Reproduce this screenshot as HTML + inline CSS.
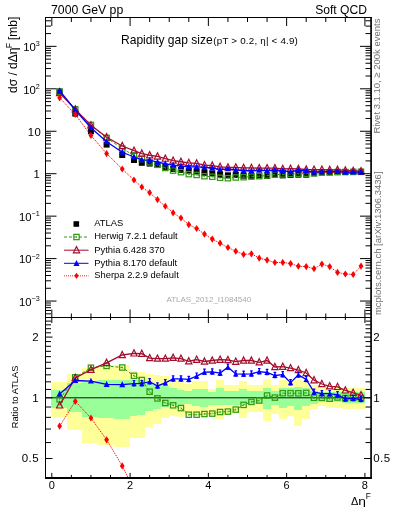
<!DOCTYPE html><html><head><meta charset="utf-8"><style>html,body{margin:0;padding:0;background:#fff;}svg{display:block;will-change:transform;}text{font-family:"Liberation Sans",sans-serif;}</style></head><body>
<svg width="393" height="512" viewBox="0 0 393 512">
<rect x="0" y="0" width="393" height="512" fill="#fff"/>
<defs><clipPath id="ct"><rect x="45.5" y="17.5" width="325.5" height="300.0"/></clipPath><clipPath id="cb"><rect x="45.5" y="317.5" width="325.5" height="160.0"/></clipPath></defs>
<g fill="#ffff99" shape-rendering="crispEdges"><rect x="51" y="382.1" width="15.7" height="34.4"/><rect x="66.7" y="374" width="15.7" height="56.2"/><rect x="82.41" y="367.7" width="15.7" height="75.3"/><rect x="98.11" y="365" width="15.7" height="80"/><rect x="113.82" y="365.2" width="15.7" height="81.7"/><rect x="129.52" y="371.2" width="7.85" height="66.3"/><rect x="137.37" y="371.7" width="7.85" height="65.8"/><rect x="145.22" y="374.2" width="7.85" height="52.8"/><rect x="153.08" y="374.7" width="7.85" height="49.6"/><rect x="160.93" y="376.2" width="7.85" height="41.7"/><rect x="168.78" y="379.8" width="7.85" height="36.1"/><rect x="176.63" y="381.3" width="7.85" height="36.1"/><rect x="184.48" y="384.3" width="7.85" height="31.6"/><rect x="192.34" y="380.8" width="7.85" height="35.6"/><rect x="200.19" y="380.8" width="7.85" height="36.1"/><rect x="208.04" y="389.3" width="7.85" height="27"/><rect x="215.89" y="380" width="7.85" height="38.7"/><rect x="223.74" y="385" width="7.85" height="30.1"/><rect x="231.6" y="385" width="7.85" height="28"/><rect x="239.45" y="381.1" width="7.85" height="36.7"/><rect x="247.3" y="384.7" width="7.85" height="26.9"/><rect x="255.15" y="384.5" width="7.85" height="27.1"/><rect x="263" y="379.2" width="7.85" height="41.8"/><rect x="270.86" y="385.2" width="7.85" height="28.8"/><rect x="278.71" y="380.2" width="7.85" height="38.5"/><rect x="286.56" y="380.6" width="7.85" height="35.1"/><rect x="294.41" y="378.8" width="7.85" height="46.9"/><rect x="302.26" y="380.6" width="7.85" height="38.1"/><rect x="310.12" y="385.2" width="7.85" height="24.1"/><rect x="317.97" y="387.8" width="7.85" height="17.7"/><rect x="325.82" y="387.8" width="7.85" height="20.2"/><rect x="333.67" y="387.8" width="7.85" height="20.2"/><rect x="341.52" y="388" width="7.85" height="20.5"/><rect x="349.38" y="388" width="7.85" height="20.5"/><rect x="357.23" y="388" width="7.85" height="20.5"/></g>
<g fill="#99ff99" shape-rendering="crispEdges"><rect x="51" y="389.6" width="15.7" height="17.9"/><rect x="66.7" y="383" width="15.7" height="29"/><rect x="82.41" y="380.6" width="15.7" height="36.4"/><rect x="98.11" y="380" width="15.7" height="38"/><rect x="113.82" y="380.3" width="15.7" height="38.45"/><rect x="129.52" y="380" width="7.85" height="36.4"/><rect x="137.37" y="380" width="7.85" height="35"/><rect x="145.22" y="383.9" width="7.85" height="26.6"/><rect x="153.08" y="384.9" width="7.85" height="24"/><rect x="160.93" y="385.9" width="7.85" height="20.7"/><rect x="168.78" y="387.9" width="7.85" height="17.3"/><rect x="176.63" y="389.9" width="7.85" height="15.3"/><rect x="184.48" y="391" width="7.85" height="13.2"/><rect x="192.34" y="388.6" width="7.85" height="17.6"/><rect x="200.19" y="389.2" width="7.85" height="18"/><rect x="208.04" y="392.3" width="7.85" height="12.3"/><rect x="215.89" y="388.2" width="7.85" height="17"/><rect x="223.74" y="391.1" width="7.85" height="14.1"/><rect x="231.6" y="391.1" width="7.85" height="14.1"/><rect x="239.45" y="389" width="7.85" height="16.4"/><rect x="247.3" y="390.5" width="7.85" height="13.5"/><rect x="255.15" y="390.7" width="7.85" height="13.3"/><rect x="263" y="387.8" width="7.85" height="20.9"/><rect x="270.86" y="391.1" width="7.85" height="13.5"/><rect x="278.71" y="388.2" width="7.85" height="19.5"/><rect x="286.56" y="388.2" width="7.85" height="17.6"/><rect x="294.41" y="387.4" width="7.85" height="23"/><rect x="302.26" y="388.2" width="7.85" height="17.6"/><rect x="310.12" y="391.1" width="7.85" height="12.9"/><rect x="317.97" y="392" width="7.85" height="10"/><rect x="325.82" y="392" width="7.85" height="10"/><rect x="333.67" y="392" width="7.85" height="10"/><rect x="341.52" y="392.2" width="7.85" height="10.3"/><rect x="349.38" y="392.2" width="7.85" height="10.3"/><rect x="357.23" y="392.2" width="7.85" height="10.3"/></g>
<line x1="45.5" y1="397.8" x2="371.0" y2="397.8" stroke="#111" stroke-width="1"/>
<g clip-path="url(#cb)"><polyline points="59.63,399.3 75.28,377.3 90.94,367.7 106.6,365.9 122.25,367.5 133.99,375.8 141.82,380 149.65,391.7 157.48,398.4 165.31,403 173.13,405.3 180.96,408.1 188.79,414.7 196.62,414.7 204.45,414 212.27,413.6 220.1,412 227.93,411.6 235.76,409.6 243.59,404.9 251.41,401.9 259.24,400.5 267.07,395.5 274.9,397.6 282.73,393.2 290.55,393.2 298.38,393.3 306.21,392.9 314.04,397.8 321.87,397.8 329.69,398.7 337.52,397.5 345.35,398 353.18,398 361.01,398" fill="none" stroke="#349a14" stroke-width="1" stroke-dasharray="3,2"/><rect x="56.98" y="396.65" width="5.3" height="5.3" fill="none" stroke="#349a14" stroke-width="1.25"/><path d="M59.63,398.1V400.5" stroke="#349a14" stroke-width="0.8" stroke-opacity="0.7" fill="none"/><rect x="72.63" y="374.65" width="5.3" height="5.3" fill="none" stroke="#349a14" stroke-width="1.25"/><path d="M75.28,376.1V378.5" stroke="#349a14" stroke-width="0.8" stroke-opacity="0.7" fill="none"/><rect x="88.29" y="365.05" width="5.3" height="5.3" fill="none" stroke="#349a14" stroke-width="1.25"/><path d="M90.94,366.5V368.9" stroke="#349a14" stroke-width="0.8" stroke-opacity="0.7" fill="none"/><rect x="103.95" y="363.25" width="5.3" height="5.3" fill="none" stroke="#349a14" stroke-width="1.25"/><path d="M106.6,364.7V367.1" stroke="#349a14" stroke-width="0.8" stroke-opacity="0.7" fill="none"/><rect x="119.6" y="364.85" width="5.3" height="5.3" fill="none" stroke="#349a14" stroke-width="1.25"/><path d="M122.25,366.3V368.7" stroke="#349a14" stroke-width="0.8" stroke-opacity="0.7" fill="none"/><rect x="131.34" y="373.15" width="5.3" height="5.3" fill="none" stroke="#349a14" stroke-width="1.25"/><path d="M133.99,374.6V377" stroke="#349a14" stroke-width="0.8" stroke-opacity="0.7" fill="none"/><rect x="139.17" y="377.35" width="5.3" height="5.3" fill="none" stroke="#349a14" stroke-width="1.25"/><path d="M141.82,378.8V381.2" stroke="#349a14" stroke-width="0.8" stroke-opacity="0.7" fill="none"/><rect x="147" y="389.05" width="5.3" height="5.3" fill="none" stroke="#349a14" stroke-width="1.25"/><path d="M149.65,390.5V392.9" stroke="#349a14" stroke-width="0.8" stroke-opacity="0.7" fill="none"/><rect x="154.83" y="395.75" width="5.3" height="5.3" fill="none" stroke="#349a14" stroke-width="1.25"/><path d="M157.48,397.2V399.6" stroke="#349a14" stroke-width="0.8" stroke-opacity="0.7" fill="none"/><rect x="162.66" y="400.35" width="5.3" height="5.3" fill="none" stroke="#349a14" stroke-width="1.25"/><path d="M165.31,401.8V404.2" stroke="#349a14" stroke-width="0.8" stroke-opacity="0.7" fill="none"/><rect x="170.48" y="402.65" width="5.3" height="5.3" fill="none" stroke="#349a14" stroke-width="1.25"/><path d="M173.13,404.1V406.5" stroke="#349a14" stroke-width="0.8" stroke-opacity="0.7" fill="none"/><rect x="178.31" y="405.45" width="5.3" height="5.3" fill="none" stroke="#349a14" stroke-width="1.25"/><path d="M180.96,406.9V409.3" stroke="#349a14" stroke-width="0.8" stroke-opacity="0.7" fill="none"/><rect x="186.14" y="412.05" width="5.3" height="5.3" fill="none" stroke="#349a14" stroke-width="1.25"/><path d="M188.79,413.5V415.9" stroke="#349a14" stroke-width="0.8" stroke-opacity="0.7" fill="none"/><rect x="193.97" y="412.05" width="5.3" height="5.3" fill="none" stroke="#349a14" stroke-width="1.25"/><path d="M196.62,413.5V415.9" stroke="#349a14" stroke-width="0.8" stroke-opacity="0.7" fill="none"/><rect x="201.8" y="411.35" width="5.3" height="5.3" fill="none" stroke="#349a14" stroke-width="1.25"/><path d="M204.45,412.8V415.2" stroke="#349a14" stroke-width="0.8" stroke-opacity="0.7" fill="none"/><rect x="209.62" y="410.95" width="5.3" height="5.3" fill="none" stroke="#349a14" stroke-width="1.25"/><path d="M212.27,412.4V414.8" stroke="#349a14" stroke-width="0.8" stroke-opacity="0.7" fill="none"/><rect x="217.45" y="409.35" width="5.3" height="5.3" fill="none" stroke="#349a14" stroke-width="1.25"/><path d="M220.1,410.8V413.2" stroke="#349a14" stroke-width="0.8" stroke-opacity="0.7" fill="none"/><rect x="225.28" y="408.95" width="5.3" height="5.3" fill="none" stroke="#349a14" stroke-width="1.25"/><path d="M227.93,410.4V412.8" stroke="#349a14" stroke-width="0.8" stroke-opacity="0.7" fill="none"/><rect x="233.11" y="406.95" width="5.3" height="5.3" fill="none" stroke="#349a14" stroke-width="1.25"/><path d="M235.76,408.4V410.8" stroke="#349a14" stroke-width="0.8" stroke-opacity="0.7" fill="none"/><rect x="240.94" y="402.25" width="5.3" height="5.3" fill="none" stroke="#349a14" stroke-width="1.25"/><path d="M243.59,403.7V406.1" stroke="#349a14" stroke-width="0.8" stroke-opacity="0.7" fill="none"/><rect x="248.76" y="399.25" width="5.3" height="5.3" fill="none" stroke="#349a14" stroke-width="1.25"/><path d="M251.41,400.7V403.1" stroke="#349a14" stroke-width="0.8" stroke-opacity="0.7" fill="none"/><rect x="256.59" y="397.85" width="5.3" height="5.3" fill="none" stroke="#349a14" stroke-width="1.25"/><path d="M259.24,399.3V401.7" stroke="#349a14" stroke-width="0.8" stroke-opacity="0.7" fill="none"/><rect x="264.42" y="392.85" width="5.3" height="5.3" fill="none" stroke="#349a14" stroke-width="1.25"/><path d="M267.07,394.3V396.7" stroke="#349a14" stroke-width="0.8" stroke-opacity="0.7" fill="none"/><rect x="272.25" y="394.95" width="5.3" height="5.3" fill="none" stroke="#349a14" stroke-width="1.25"/><path d="M274.9,396.4V398.8" stroke="#349a14" stroke-width="0.8" stroke-opacity="0.7" fill="none"/><rect x="280.08" y="390.55" width="5.3" height="5.3" fill="none" stroke="#349a14" stroke-width="1.25"/><path d="M282.73,392V394.4" stroke="#349a14" stroke-width="0.8" stroke-opacity="0.7" fill="none"/><rect x="287.9" y="390.55" width="5.3" height="5.3" fill="none" stroke="#349a14" stroke-width="1.25"/><path d="M290.55,392V394.4" stroke="#349a14" stroke-width="0.8" stroke-opacity="0.7" fill="none"/><rect x="295.73" y="390.65" width="5.3" height="5.3" fill="none" stroke="#349a14" stroke-width="1.25"/><path d="M298.38,392.1V394.5" stroke="#349a14" stroke-width="0.8" stroke-opacity="0.7" fill="none"/><rect x="303.56" y="390.25" width="5.3" height="5.3" fill="none" stroke="#349a14" stroke-width="1.25"/><path d="M306.21,391.7V394.1" stroke="#349a14" stroke-width="0.8" stroke-opacity="0.7" fill="none"/><rect x="311.39" y="395.15" width="5.3" height="5.3" fill="none" stroke="#349a14" stroke-width="1.25"/><path d="M314.04,396.6V399" stroke="#349a14" stroke-width="0.8" stroke-opacity="0.7" fill="none"/><rect x="319.22" y="395.15" width="5.3" height="5.3" fill="none" stroke="#349a14" stroke-width="1.25"/><path d="M321.87,396.6V399" stroke="#349a14" stroke-width="0.8" stroke-opacity="0.7" fill="none"/><rect x="327.04" y="396.05" width="5.3" height="5.3" fill="none" stroke="#349a14" stroke-width="1.25"/><path d="M329.69,397.5V399.9" stroke="#349a14" stroke-width="0.8" stroke-opacity="0.7" fill="none"/><rect x="334.87" y="394.85" width="5.3" height="5.3" fill="none" stroke="#349a14" stroke-width="1.25"/><path d="M337.52,396.3V398.7" stroke="#349a14" stroke-width="0.8" stroke-opacity="0.7" fill="none"/><rect x="342.7" y="395.35" width="5.3" height="5.3" fill="none" stroke="#349a14" stroke-width="1.25"/><path d="M345.35,396.8V399.2" stroke="#349a14" stroke-width="0.8" stroke-opacity="0.7" fill="none"/><rect x="350.53" y="395.35" width="5.3" height="5.3" fill="none" stroke="#349a14" stroke-width="1.25"/><path d="M353.18,396.8V399.2" stroke="#349a14" stroke-width="0.8" stroke-opacity="0.7" fill="none"/><rect x="358.36" y="395.35" width="5.3" height="5.3" fill="none" stroke="#349a14" stroke-width="1.25"/><path d="M361.01,396.8V399.2" stroke="#349a14" stroke-width="0.8" stroke-opacity="0.7" fill="none"/><polyline points="59.63,405.4 75.28,377.9 90.94,369.7 106.6,362.8 122.25,355 133.99,353.4 141.82,353.75 149.65,358.1 157.48,358.6 165.31,358.6 173.13,357.8 180.96,358.6 188.79,361.25 196.62,359.7 204.45,361.5 212.27,360.5 220.1,359.7 227.93,360 235.76,361.7 243.59,360.5 251.41,360.5 259.24,362.3 267.07,360.5 274.9,367 282.73,366.7 290.55,368.1 298.38,370 306.21,373 314.04,380.2 321.87,384 329.69,386.3 337.52,386.9 345.35,390.4 353.18,392.8 361.01,395.1" fill="none" stroke="#a30d2e" stroke-width="1.3"/><polygon points="59.63,401.8 62.73,408 56.53,408" fill="none" stroke="#a30d2e" stroke-width="1.2" stroke-linejoin="miter"/><polygon points="75.28,374.3 78.38,380.5 72.18,380.5" fill="none" stroke="#a30d2e" stroke-width="1.2" stroke-linejoin="miter"/><polygon points="90.94,366.1 94.04,372.3 87.84,372.3" fill="none" stroke="#a30d2e" stroke-width="1.2" stroke-linejoin="miter"/><polygon points="106.6,359.2 109.7,365.4 103.5,365.4" fill="none" stroke="#a30d2e" stroke-width="1.2" stroke-linejoin="miter"/><polygon points="122.25,351.4 125.35,357.6 119.15,357.6" fill="none" stroke="#a30d2e" stroke-width="1.2" stroke-linejoin="miter"/><polygon points="133.99,349.8 137.09,356 130.89,356" fill="none" stroke="#a30d2e" stroke-width="1.2" stroke-linejoin="miter"/><polygon points="141.82,350.15 144.92,356.35 138.72,356.35" fill="none" stroke="#a30d2e" stroke-width="1.2" stroke-linejoin="miter"/><polygon points="149.65,354.5 152.75,360.7 146.55,360.7" fill="none" stroke="#a30d2e" stroke-width="1.2" stroke-linejoin="miter"/><polygon points="157.48,355 160.58,361.2 154.38,361.2" fill="none" stroke="#a30d2e" stroke-width="1.2" stroke-linejoin="miter"/><polygon points="165.31,355 168.41,361.2 162.21,361.2" fill="none" stroke="#a30d2e" stroke-width="1.2" stroke-linejoin="miter"/><polygon points="173.13,354.2 176.23,360.4 170.03,360.4" fill="none" stroke="#a30d2e" stroke-width="1.2" stroke-linejoin="miter"/><polygon points="180.96,355 184.06,361.2 177.86,361.2" fill="none" stroke="#a30d2e" stroke-width="1.2" stroke-linejoin="miter"/><polygon points="188.79,357.65 191.89,363.85 185.69,363.85" fill="none" stroke="#a30d2e" stroke-width="1.2" stroke-linejoin="miter"/><polygon points="196.62,356.1 199.72,362.3 193.52,362.3" fill="none" stroke="#a30d2e" stroke-width="1.2" stroke-linejoin="miter"/><polygon points="204.45,357.9 207.55,364.1 201.35,364.1" fill="none" stroke="#a30d2e" stroke-width="1.2" stroke-linejoin="miter"/><polygon points="212.27,356.9 215.37,363.1 209.17,363.1" fill="none" stroke="#a30d2e" stroke-width="1.2" stroke-linejoin="miter"/><polygon points="220.1,356.1 223.2,362.3 217,362.3" fill="none" stroke="#a30d2e" stroke-width="1.2" stroke-linejoin="miter"/><polygon points="227.93,356.4 231.03,362.6 224.83,362.6" fill="none" stroke="#a30d2e" stroke-width="1.2" stroke-linejoin="miter"/><polygon points="235.76,358.1 238.86,364.3 232.66,364.3" fill="none" stroke="#a30d2e" stroke-width="1.2" stroke-linejoin="miter"/><polygon points="243.59,356.9 246.69,363.1 240.49,363.1" fill="none" stroke="#a30d2e" stroke-width="1.2" stroke-linejoin="miter"/><polygon points="251.41,356.9 254.51,363.1 248.31,363.1" fill="none" stroke="#a30d2e" stroke-width="1.2" stroke-linejoin="miter"/><polygon points="259.24,358.7 262.34,364.9 256.14,364.9" fill="none" stroke="#a30d2e" stroke-width="1.2" stroke-linejoin="miter"/><polygon points="267.07,356.9 270.17,363.1 263.97,363.1" fill="none" stroke="#a30d2e" stroke-width="1.2" stroke-linejoin="miter"/><polygon points="274.9,363.4 278,369.6 271.8,369.6" fill="none" stroke="#a30d2e" stroke-width="1.2" stroke-linejoin="miter"/><polygon points="282.73,363.1 285.83,369.3 279.63,369.3" fill="none" stroke="#a30d2e" stroke-width="1.2" stroke-linejoin="miter"/><polygon points="290.55,364.5 293.65,370.7 287.45,370.7" fill="none" stroke="#a30d2e" stroke-width="1.2" stroke-linejoin="miter"/><polygon points="298.38,366.4 301.48,372.6 295.28,372.6" fill="none" stroke="#a30d2e" stroke-width="1.2" stroke-linejoin="miter"/><polygon points="306.21,369.4 309.31,375.6 303.11,375.6" fill="none" stroke="#a30d2e" stroke-width="1.2" stroke-linejoin="miter"/><polygon points="314.04,376.6 317.14,382.8 310.94,382.8" fill="none" stroke="#a30d2e" stroke-width="1.2" stroke-linejoin="miter"/><polygon points="321.87,380.4 324.97,386.6 318.77,386.6" fill="none" stroke="#a30d2e" stroke-width="1.2" stroke-linejoin="miter"/><polygon points="329.69,382.7 332.79,388.9 326.59,388.9" fill="none" stroke="#a30d2e" stroke-width="1.2" stroke-linejoin="miter"/><polygon points="337.52,383.3 340.62,389.5 334.42,389.5" fill="none" stroke="#a30d2e" stroke-width="1.2" stroke-linejoin="miter"/><polygon points="345.35,386.8 348.45,393 342.25,393" fill="none" stroke="#a30d2e" stroke-width="1.2" stroke-linejoin="miter"/><polygon points="353.18,389.2 356.28,395.4 350.08,395.4" fill="none" stroke="#a30d2e" stroke-width="1.2" stroke-linejoin="miter"/><polygon points="361.01,391.5 364.11,397.7 357.91,397.7" fill="none" stroke="#a30d2e" stroke-width="1.2" stroke-linejoin="miter"/><polyline points="59.63,394 75.28,380.5 90.94,381.1 106.6,384.4 122.25,384.7 133.99,383.6 141.82,383.6 149.65,381.7 157.48,385.95 165.31,382.8 173.13,378.9 180.96,378.9 188.79,379.4 196.62,376.1 204.45,372.2 212.27,371.9 220.1,373.1 227.93,367.2 235.76,373.9 243.59,374.2 251.41,373.9 259.24,371.6 267.07,372.5 274.9,375.5 282.73,374.7 290.55,382.7 298.38,374.9 306.21,379.5 314.04,392.2 321.87,393.7 329.69,393.7 337.52,394.8 345.35,398.9 353.18,398.4 361.01,399.5" fill="none" stroke="#0000ff" stroke-width="1.3"/><polygon points="59.63,390.6 62.63,396.5 56.63,396.5" fill="#0000ff"/><polygon points="75.28,377.1 78.28,383 72.28,383" fill="#0000ff"/><polygon points="90.94,377.7 93.94,383.6 87.94,383.6" fill="#0000ff"/><polygon points="106.6,381 109.6,386.9 103.6,386.9" fill="#0000ff"/><polygon points="122.25,381.3 125.25,387.2 119.25,387.2" fill="#0000ff"/><polygon points="133.99,381 136.69,386.2 131.29,386.2" fill="#0000ff"/><path d="M133.99,380.5V385.8M132.69,380.5h2.6M132.69,385.8h2.6" stroke="#0000ff" stroke-width="1.2" fill="none"/><polygon points="141.82,381 144.52,386.2 139.12,386.2" fill="#0000ff"/><path d="M141.82,380.5V385.8M140.52,380.5h2.6M140.52,385.8h2.6" stroke="#0000ff" stroke-width="1.2" fill="none"/><polygon points="149.65,379.1 152.35,384.3 146.95,384.3" fill="#0000ff"/><path d="M149.65,378.6V383.9M148.35,378.6h2.6M148.35,383.9h2.6" stroke="#0000ff" stroke-width="1.2" fill="none"/><polygon points="157.48,383.35 160.18,388.55 154.78,388.55" fill="#0000ff"/><path d="M157.48,382.85V388.15M156.18,382.85h2.6M156.18,388.15h2.6" stroke="#0000ff" stroke-width="1.2" fill="none"/><polygon points="165.31,380.2 168.01,385.4 162.61,385.4" fill="#0000ff"/><path d="M165.31,379.7V385M164.01,379.7h2.6M164.01,385h2.6" stroke="#0000ff" stroke-width="1.2" fill="none"/><polygon points="173.13,376.3 175.83,381.5 170.43,381.5" fill="#0000ff"/><path d="M173.13,375.8V381.1M171.83,375.8h2.6M171.83,381.1h2.6" stroke="#0000ff" stroke-width="1.2" fill="none"/><polygon points="180.96,376.3 183.66,381.5 178.26,381.5" fill="#0000ff"/><path d="M180.96,375.8V381.1M179.66,375.8h2.6M179.66,381.1h2.6" stroke="#0000ff" stroke-width="1.2" fill="none"/><polygon points="188.79,376.8 191.49,382 186.09,382" fill="#0000ff"/><path d="M188.79,376.3V381.6M187.49,376.3h2.6M187.49,381.6h2.6" stroke="#0000ff" stroke-width="1.2" fill="none"/><polygon points="196.62,373.5 199.32,378.7 193.92,378.7" fill="#0000ff"/><path d="M196.62,373V378.3M195.32,373h2.6M195.32,378.3h2.6" stroke="#0000ff" stroke-width="1.2" fill="none"/><polygon points="204.45,369.6 207.15,374.8 201.75,374.8" fill="#0000ff"/><path d="M204.45,369.1V374.4M203.15,369.1h2.6M203.15,374.4h2.6" stroke="#0000ff" stroke-width="1.2" fill="none"/><polygon points="212.27,369.3 214.97,374.5 209.57,374.5" fill="#0000ff"/><path d="M212.27,368.8V374.1M210.97,368.8h2.6M210.97,374.1h2.6" stroke="#0000ff" stroke-width="1.2" fill="none"/><polygon points="220.1,370.5 222.8,375.7 217.4,375.7" fill="#0000ff"/><path d="M220.1,370V375.3M218.8,370h2.6M218.8,375.3h2.6" stroke="#0000ff" stroke-width="1.2" fill="none"/><polygon points="227.93,364.6 230.63,369.8 225.23,369.8" fill="#0000ff"/><path d="M227.93,364.1V369.4M226.63,364.1h2.6M226.63,369.4h2.6" stroke="#0000ff" stroke-width="1.2" fill="none"/><polygon points="235.76,371.3 238.46,376.5 233.06,376.5" fill="#0000ff"/><path d="M235.76,370.8V376.1M234.46,370.8h2.6M234.46,376.1h2.6" stroke="#0000ff" stroke-width="1.2" fill="none"/><polygon points="243.59,371.6 246.29,376.8 240.89,376.8" fill="#0000ff"/><path d="M243.59,371.1V376.4M242.29,371.1h2.6M242.29,376.4h2.6" stroke="#0000ff" stroke-width="1.2" fill="none"/><polygon points="251.41,371.3 254.11,376.5 248.71,376.5" fill="#0000ff"/><path d="M251.41,370.8V376.1M250.11,370.8h2.6M250.11,376.1h2.6" stroke="#0000ff" stroke-width="1.2" fill="none"/><polygon points="259.24,369 261.94,374.2 256.54,374.2" fill="#0000ff"/><path d="M259.24,368.5V373.8M257.94,368.5h2.6M257.94,373.8h2.6" stroke="#0000ff" stroke-width="1.2" fill="none"/><polygon points="267.07,369.9 269.77,375.1 264.37,375.1" fill="#0000ff"/><path d="M267.07,369.4V374.7M265.77,369.4h2.6M265.77,374.7h2.6" stroke="#0000ff" stroke-width="1.2" fill="none"/><polygon points="274.9,372.9 277.6,378.1 272.2,378.1" fill="#0000ff"/><path d="M274.9,372.4V377.7M273.6,372.4h2.6M273.6,377.7h2.6" stroke="#0000ff" stroke-width="1.2" fill="none"/><polygon points="282.73,372.1 285.43,377.3 280.03,377.3" fill="#0000ff"/><path d="M282.73,371.6V376.9M281.43,371.6h2.6M281.43,376.9h2.6" stroke="#0000ff" stroke-width="1.2" fill="none"/><polygon points="290.55,380.1 293.25,385.3 287.85,385.3" fill="#0000ff"/><path d="M290.55,379.6V384.9M289.25,379.6h2.6M289.25,384.9h2.6" stroke="#0000ff" stroke-width="1.2" fill="none"/><polygon points="298.38,372.3 301.08,377.5 295.68,377.5" fill="#0000ff"/><path d="M298.38,371.8V377.1M297.08,371.8h2.6M297.08,377.1h2.6" stroke="#0000ff" stroke-width="1.2" fill="none"/><polygon points="306.21,376.9 308.91,382.1 303.51,382.1" fill="#0000ff"/><path d="M306.21,376.4V381.7M304.91,376.4h2.6M304.91,381.7h2.6" stroke="#0000ff" stroke-width="1.2" fill="none"/><polygon points="314.04,389.6 316.74,394.8 311.34,394.8" fill="#0000ff"/><path d="M314.04,389.1V394.4M312.74,389.1h2.6M312.74,394.4h2.6" stroke="#0000ff" stroke-width="1.2" fill="none"/><polygon points="321.87,391.1 324.57,396.3 319.17,396.3" fill="#0000ff"/><path d="M321.87,390.6V395.9M320.57,390.6h2.6M320.57,395.9h2.6" stroke="#0000ff" stroke-width="1.2" fill="none"/><polygon points="329.69,391.1 332.39,396.3 326.99,396.3" fill="#0000ff"/><path d="M329.69,390.6V395.9M328.39,390.6h2.6M328.39,395.9h2.6" stroke="#0000ff" stroke-width="1.2" fill="none"/><polygon points="337.52,392.2 340.22,397.4 334.82,397.4" fill="#0000ff"/><path d="M337.52,391.7V397M336.22,391.7h2.6M336.22,397h2.6" stroke="#0000ff" stroke-width="1.2" fill="none"/><polygon points="345.35,396.3 348.05,401.5 342.65,401.5" fill="#0000ff"/><path d="M345.35,395.8V401.1M344.05,395.8h2.6M344.05,401.1h2.6" stroke="#0000ff" stroke-width="1.2" fill="none"/><polygon points="353.18,395.8 355.88,401 350.48,401" fill="#0000ff"/><path d="M353.18,395.3V400.6M351.88,395.3h2.6M351.88,400.6h2.6" stroke="#0000ff" stroke-width="1.2" fill="none"/><polygon points="361.01,396.9 363.71,402.1 358.31,402.1" fill="#0000ff"/><path d="M361.01,396.4V401.7M359.71,396.4h2.6M359.71,401.7h2.6" stroke="#0000ff" stroke-width="1.2" fill="none"/><polyline points="59.63,426.1 75.28,401.3 90.94,418 106.6,439.8 122.25,465.9 133.99,489.39" fill="none" stroke="#ff0000" stroke-width="1" stroke-dasharray="1.2,1"/><polygon points="59.63,422.5 62.03,426.1 59.63,429.7 57.23,426.1" fill="#ff0000"/><polygon points="75.28,397.7 77.68,401.3 75.28,404.9 72.88,401.3" fill="#ff0000"/><polygon points="90.94,414.4 93.34,418 90.94,421.6 88.54,418" fill="#ff0000"/><polygon points="106.6,436.2 109,439.8 106.6,443.4 104.2,439.8" fill="#ff0000"/><polygon points="122.25,462.3 124.65,465.9 122.25,469.5 119.85,465.9" fill="#ff0000"/></g>
<g clip-path="url(#ct)"><rect x="56.63" y="88.5" width="6" height="6" fill="#000"/><rect x="72.28" y="110.6" width="6" height="6" fill="#000"/><rect x="87.94" y="128.25" width="6" height="6" fill="#000"/><rect x="103.6" y="141.6" width="6" height="6" fill="#000"/><rect x="119.25" y="152" width="6" height="6" fill="#000"/><rect x="130.99" y="157" width="6" height="6" fill="#000"/><rect x="138.82" y="159.8" width="6" height="6" fill="#000"/><rect x="146.65" y="160.6" width="6" height="6" fill="#000"/><rect x="154.48" y="161.7" width="6" height="6" fill="#000"/><rect x="162.31" y="163.9" width="6" height="6" fill="#000"/><rect x="170.13" y="166" width="6" height="6" fill="#000"/><rect x="177.96" y="167" width="6" height="6" fill="#000"/><rect x="185.79" y="167.6" width="6" height="6" fill="#000"/><rect x="193.62" y="168.4" width="6" height="6" fill="#000"/><rect x="201.45" y="169.8" width="6" height="6" fill="#000"/><rect x="209.27" y="170.4" width="6" height="6" fill="#000"/><rect x="217.1" y="171.8" width="6" height="6" fill="#000"/><rect x="224.93" y="172.3" width="6" height="6" fill="#000"/><rect x="232.76" y="172" width="6" height="6" fill="#000"/><rect x="240.59" y="172.7" width="6" height="6" fill="#000"/><rect x="248.41" y="172.8" width="6" height="6" fill="#000"/><rect x="256.24" y="172.6" width="6" height="6" fill="#000"/><rect x="264.07" y="173" width="6" height="6" fill="#000"/><rect x="271.9" y="171.7" width="6" height="6" fill="#000"/><rect x="279.73" y="172.4" width="6" height="6" fill="#000"/><rect x="287.55" y="172" width="6" height="6" fill="#000"/><rect x="295.38" y="171.7" width="6" height="6" fill="#000"/><rect x="303.21" y="171.7" width="6" height="6" fill="#000"/><rect x="311.04" y="170.3" width="6" height="6" fill="#000"/><rect x="318.87" y="169.5" width="6" height="6" fill="#000"/><rect x="326.69" y="169.3" width="6" height="6" fill="#000"/><rect x="334.52" y="169.1" width="6" height="6" fill="#000"/><rect x="342.35" y="169" width="6" height="6" fill="#000"/><rect x="350.18" y="168.9" width="6" height="6" fill="#000"/><rect x="358.01" y="168.8" width="6" height="6" fill="#000"/><polyline points="59.63,91.82 75.28,109.28 90.94,124.91 106.6,137.89 122.25,148.62 133.99,155.37 141.82,159.05 149.65,162.32 157.48,164.83 165.31,167.99 173.13,170.58 180.96,172.17 188.79,174.16 196.62,174.96 204.45,176.21 212.27,176.73 220.1,177.79 227.93,178.2 235.76,177.48 243.59,177.19 251.41,176.66 259.24,176.17 267.07,175.52 274.9,174.66 282.73,174.43 290.55,174.03 298.38,173.75 306.21,173.67 314.04,173.3 321.87,172.5 329.69,172.49 337.52,172.04 345.35,172.04 353.18,171.94 361.01,171.84" fill="none" stroke="#349a14" stroke-width="1" stroke-dasharray="3,2"/><rect x="56.98" y="89.17" width="5.3" height="5.3" fill="none" stroke="#349a14" stroke-width="1.25"/><path d="M59.63,90.62V93.02" stroke="#349a14" stroke-width="0.8" stroke-opacity="0.7" fill="none"/><rect x="72.63" y="106.63" width="5.3" height="5.3" fill="none" stroke="#349a14" stroke-width="1.25"/><path d="M75.28,108.08V110.48" stroke="#349a14" stroke-width="0.8" stroke-opacity="0.7" fill="none"/><rect x="88.29" y="122.26" width="5.3" height="5.3" fill="none" stroke="#349a14" stroke-width="1.25"/><path d="M90.94,123.71V126.11" stroke="#349a14" stroke-width="0.8" stroke-opacity="0.7" fill="none"/><rect x="103.95" y="135.24" width="5.3" height="5.3" fill="none" stroke="#349a14" stroke-width="1.25"/><path d="M106.6,136.69V139.09" stroke="#349a14" stroke-width="0.8" stroke-opacity="0.7" fill="none"/><rect x="119.6" y="145.97" width="5.3" height="5.3" fill="none" stroke="#349a14" stroke-width="1.25"/><path d="M122.25,147.42V149.82" stroke="#349a14" stroke-width="0.8" stroke-opacity="0.7" fill="none"/><rect x="131.34" y="152.72" width="5.3" height="5.3" fill="none" stroke="#349a14" stroke-width="1.25"/><path d="M133.99,154.17V156.57" stroke="#349a14" stroke-width="0.8" stroke-opacity="0.7" fill="none"/><rect x="139.17" y="156.4" width="5.3" height="5.3" fill="none" stroke="#349a14" stroke-width="1.25"/><path d="M141.82,157.85V160.25" stroke="#349a14" stroke-width="0.8" stroke-opacity="0.7" fill="none"/><rect x="147" y="159.67" width="5.3" height="5.3" fill="none" stroke="#349a14" stroke-width="1.25"/><path d="M149.65,161.12V163.52" stroke="#349a14" stroke-width="0.8" stroke-opacity="0.7" fill="none"/><rect x="154.83" y="162.18" width="5.3" height="5.3" fill="none" stroke="#349a14" stroke-width="1.25"/><path d="M157.48,163.63V166.03" stroke="#349a14" stroke-width="0.8" stroke-opacity="0.7" fill="none"/><rect x="162.66" y="165.34" width="5.3" height="5.3" fill="none" stroke="#349a14" stroke-width="1.25"/><path d="M165.31,166.79V169.19" stroke="#349a14" stroke-width="0.8" stroke-opacity="0.7" fill="none"/><rect x="170.48" y="167.93" width="5.3" height="5.3" fill="none" stroke="#349a14" stroke-width="1.25"/><path d="M173.13,169.38V171.78" stroke="#349a14" stroke-width="0.8" stroke-opacity="0.7" fill="none"/><rect x="178.31" y="169.52" width="5.3" height="5.3" fill="none" stroke="#349a14" stroke-width="1.25"/><path d="M180.96,170.97V173.37" stroke="#349a14" stroke-width="0.8" stroke-opacity="0.7" fill="none"/><rect x="186.14" y="171.51" width="5.3" height="5.3" fill="none" stroke="#349a14" stroke-width="1.25"/><path d="M188.79,172.96V175.36" stroke="#349a14" stroke-width="0.8" stroke-opacity="0.7" fill="none"/><rect x="193.97" y="172.31" width="5.3" height="5.3" fill="none" stroke="#349a14" stroke-width="1.25"/><path d="M196.62,173.76V176.16" stroke="#349a14" stroke-width="0.8" stroke-opacity="0.7" fill="none"/><rect x="201.8" y="173.56" width="5.3" height="5.3" fill="none" stroke="#349a14" stroke-width="1.25"/><path d="M204.45,175.01V177.41" stroke="#349a14" stroke-width="0.8" stroke-opacity="0.7" fill="none"/><rect x="209.62" y="174.08" width="5.3" height="5.3" fill="none" stroke="#349a14" stroke-width="1.25"/><path d="M212.27,175.53V177.93" stroke="#349a14" stroke-width="0.8" stroke-opacity="0.7" fill="none"/><rect x="217.45" y="175.14" width="5.3" height="5.3" fill="none" stroke="#349a14" stroke-width="1.25"/><path d="M220.1,176.59V178.99" stroke="#349a14" stroke-width="0.8" stroke-opacity="0.7" fill="none"/><rect x="225.28" y="175.55" width="5.3" height="5.3" fill="none" stroke="#349a14" stroke-width="1.25"/><path d="M227.93,177V179.4" stroke="#349a14" stroke-width="0.8" stroke-opacity="0.7" fill="none"/><rect x="233.11" y="174.83" width="5.3" height="5.3" fill="none" stroke="#349a14" stroke-width="1.25"/><path d="M235.76,176.28V178.68" stroke="#349a14" stroke-width="0.8" stroke-opacity="0.7" fill="none"/><rect x="240.94" y="174.54" width="5.3" height="5.3" fill="none" stroke="#349a14" stroke-width="1.25"/><path d="M243.59,175.99V178.39" stroke="#349a14" stroke-width="0.8" stroke-opacity="0.7" fill="none"/><rect x="248.76" y="174.01" width="5.3" height="5.3" fill="none" stroke="#349a14" stroke-width="1.25"/><path d="M251.41,175.46V177.86" stroke="#349a14" stroke-width="0.8" stroke-opacity="0.7" fill="none"/><rect x="256.59" y="173.52" width="5.3" height="5.3" fill="none" stroke="#349a14" stroke-width="1.25"/><path d="M259.24,174.97V177.37" stroke="#349a14" stroke-width="0.8" stroke-opacity="0.7" fill="none"/><rect x="264.42" y="172.87" width="5.3" height="5.3" fill="none" stroke="#349a14" stroke-width="1.25"/><path d="M267.07,174.32V176.72" stroke="#349a14" stroke-width="0.8" stroke-opacity="0.7" fill="none"/><rect x="272.25" y="172.01" width="5.3" height="5.3" fill="none" stroke="#349a14" stroke-width="1.25"/><path d="M274.9,173.46V175.86" stroke="#349a14" stroke-width="0.8" stroke-opacity="0.7" fill="none"/><rect x="280.08" y="171.78" width="5.3" height="5.3" fill="none" stroke="#349a14" stroke-width="1.25"/><path d="M282.73,173.23V175.63" stroke="#349a14" stroke-width="0.8" stroke-opacity="0.7" fill="none"/><rect x="287.9" y="171.38" width="5.3" height="5.3" fill="none" stroke="#349a14" stroke-width="1.25"/><path d="M290.55,172.83V175.23" stroke="#349a14" stroke-width="0.8" stroke-opacity="0.7" fill="none"/><rect x="295.73" y="171.1" width="5.3" height="5.3" fill="none" stroke="#349a14" stroke-width="1.25"/><path d="M298.38,172.55V174.95" stroke="#349a14" stroke-width="0.8" stroke-opacity="0.7" fill="none"/><rect x="303.56" y="171.02" width="5.3" height="5.3" fill="none" stroke="#349a14" stroke-width="1.25"/><path d="M306.21,172.47V174.87" stroke="#349a14" stroke-width="0.8" stroke-opacity="0.7" fill="none"/><rect x="311.39" y="170.65" width="5.3" height="5.3" fill="none" stroke="#349a14" stroke-width="1.25"/><path d="M314.04,172.1V174.5" stroke="#349a14" stroke-width="0.8" stroke-opacity="0.7" fill="none"/><rect x="319.22" y="169.85" width="5.3" height="5.3" fill="none" stroke="#349a14" stroke-width="1.25"/><path d="M321.87,171.3V173.7" stroke="#349a14" stroke-width="0.8" stroke-opacity="0.7" fill="none"/><rect x="327.04" y="169.84" width="5.3" height="5.3" fill="none" stroke="#349a14" stroke-width="1.25"/><path d="M329.69,171.29V173.69" stroke="#349a14" stroke-width="0.8" stroke-opacity="0.7" fill="none"/><rect x="334.87" y="169.39" width="5.3" height="5.3" fill="none" stroke="#349a14" stroke-width="1.25"/><path d="M337.52,170.84V173.24" stroke="#349a14" stroke-width="0.8" stroke-opacity="0.7" fill="none"/><rect x="342.7" y="169.39" width="5.3" height="5.3" fill="none" stroke="#349a14" stroke-width="1.25"/><path d="M345.35,170.84V173.24" stroke="#349a14" stroke-width="0.8" stroke-opacity="0.7" fill="none"/><rect x="350.53" y="169.29" width="5.3" height="5.3" fill="none" stroke="#349a14" stroke-width="1.25"/><path d="M353.18,170.74V173.14" stroke="#349a14" stroke-width="0.8" stroke-opacity="0.7" fill="none"/><rect x="358.36" y="169.19" width="5.3" height="5.3" fill="none" stroke="#349a14" stroke-width="1.25"/><path d="M361.01,170.64V173.04" stroke="#349a14" stroke-width="0.8" stroke-opacity="0.7" fill="none"/><polyline points="59.63,93.1 75.28,109.41 90.94,125.33 106.6,137.23 122.25,145.99 133.99,150.65 141.82,153.53 149.65,155.24 157.48,156.45 165.31,158.65 173.13,160.58 180.96,161.75 188.79,162.91 196.62,163.38 204.45,165.16 212.27,165.55 220.1,166.78 227.93,167.34 235.76,167.4 243.59,167.85 251.41,167.95 259.24,168.13 267.07,168.15 274.9,168.22 282.73,168.85 290.55,168.75 298.38,168.85 306.21,169.48 314.04,169.6 321.87,169.6 329.69,169.88 337.52,169.81 345.35,170.44 353.18,170.85 361.01,171.23" fill="none" stroke="#a30d2e" stroke-width="1.3"/><polygon points="59.63,89.5 62.73,95.7 56.53,95.7" fill="none" stroke="#a30d2e" stroke-width="1.2" stroke-linejoin="miter"/><polygon points="75.28,105.81 78.38,112.01 72.18,112.01" fill="none" stroke="#a30d2e" stroke-width="1.2" stroke-linejoin="miter"/><polygon points="90.94,121.73 94.04,127.93 87.84,127.93" fill="none" stroke="#a30d2e" stroke-width="1.2" stroke-linejoin="miter"/><polygon points="106.6,133.63 109.7,139.83 103.5,139.83" fill="none" stroke="#a30d2e" stroke-width="1.2" stroke-linejoin="miter"/><polygon points="122.25,142.39 125.35,148.59 119.15,148.59" fill="none" stroke="#a30d2e" stroke-width="1.2" stroke-linejoin="miter"/><polygon points="133.99,147.05 137.09,153.25 130.89,153.25" fill="none" stroke="#a30d2e" stroke-width="1.2" stroke-linejoin="miter"/><polygon points="141.82,149.93 144.92,156.13 138.72,156.13" fill="none" stroke="#a30d2e" stroke-width="1.2" stroke-linejoin="miter"/><polygon points="149.65,151.64 152.75,157.84 146.55,157.84" fill="none" stroke="#a30d2e" stroke-width="1.2" stroke-linejoin="miter"/><polygon points="157.48,152.85 160.58,159.05 154.38,159.05" fill="none" stroke="#a30d2e" stroke-width="1.2" stroke-linejoin="miter"/><polygon points="165.31,155.05 168.41,161.25 162.21,161.25" fill="none" stroke="#a30d2e" stroke-width="1.2" stroke-linejoin="miter"/><polygon points="173.13,156.98 176.23,163.18 170.03,163.18" fill="none" stroke="#a30d2e" stroke-width="1.2" stroke-linejoin="miter"/><polygon points="180.96,158.15 184.06,164.35 177.86,164.35" fill="none" stroke="#a30d2e" stroke-width="1.2" stroke-linejoin="miter"/><polygon points="188.79,159.31 191.89,165.51 185.69,165.51" fill="none" stroke="#a30d2e" stroke-width="1.2" stroke-linejoin="miter"/><polygon points="196.62,159.78 199.72,165.98 193.52,165.98" fill="none" stroke="#a30d2e" stroke-width="1.2" stroke-linejoin="miter"/><polygon points="204.45,161.56 207.55,167.76 201.35,167.76" fill="none" stroke="#a30d2e" stroke-width="1.2" stroke-linejoin="miter"/><polygon points="212.27,161.95 215.37,168.15 209.17,168.15" fill="none" stroke="#a30d2e" stroke-width="1.2" stroke-linejoin="miter"/><polygon points="220.1,163.18 223.2,169.38 217,169.38" fill="none" stroke="#a30d2e" stroke-width="1.2" stroke-linejoin="miter"/><polygon points="227.93,163.74 231.03,169.94 224.83,169.94" fill="none" stroke="#a30d2e" stroke-width="1.2" stroke-linejoin="miter"/><polygon points="235.76,163.8 238.86,170 232.66,170" fill="none" stroke="#a30d2e" stroke-width="1.2" stroke-linejoin="miter"/><polygon points="243.59,164.25 246.69,170.45 240.49,170.45" fill="none" stroke="#a30d2e" stroke-width="1.2" stroke-linejoin="miter"/><polygon points="251.41,164.35 254.51,170.55 248.31,170.55" fill="none" stroke="#a30d2e" stroke-width="1.2" stroke-linejoin="miter"/><polygon points="259.24,164.53 262.34,170.73 256.14,170.73" fill="none" stroke="#a30d2e" stroke-width="1.2" stroke-linejoin="miter"/><polygon points="267.07,164.55 270.17,170.75 263.97,170.75" fill="none" stroke="#a30d2e" stroke-width="1.2" stroke-linejoin="miter"/><polygon points="274.9,164.62 278,170.82 271.8,170.82" fill="none" stroke="#a30d2e" stroke-width="1.2" stroke-linejoin="miter"/><polygon points="282.73,165.25 285.83,171.45 279.63,171.45" fill="none" stroke="#a30d2e" stroke-width="1.2" stroke-linejoin="miter"/><polygon points="290.55,165.15 293.65,171.35 287.45,171.35" fill="none" stroke="#a30d2e" stroke-width="1.2" stroke-linejoin="miter"/><polygon points="298.38,165.25 301.48,171.45 295.28,171.45" fill="none" stroke="#a30d2e" stroke-width="1.2" stroke-linejoin="miter"/><polygon points="306.21,165.88 309.31,172.08 303.11,172.08" fill="none" stroke="#a30d2e" stroke-width="1.2" stroke-linejoin="miter"/><polygon points="314.04,166 317.14,172.2 310.94,172.2" fill="none" stroke="#a30d2e" stroke-width="1.2" stroke-linejoin="miter"/><polygon points="321.87,166 324.97,172.2 318.77,172.2" fill="none" stroke="#a30d2e" stroke-width="1.2" stroke-linejoin="miter"/><polygon points="329.69,166.28 332.79,172.48 326.59,172.48" fill="none" stroke="#a30d2e" stroke-width="1.2" stroke-linejoin="miter"/><polygon points="337.52,166.21 340.62,172.41 334.42,172.41" fill="none" stroke="#a30d2e" stroke-width="1.2" stroke-linejoin="miter"/><polygon points="345.35,166.84 348.45,173.04 342.25,173.04" fill="none" stroke="#a30d2e" stroke-width="1.2" stroke-linejoin="miter"/><polygon points="353.18,167.25 356.28,173.45 350.08,173.45" fill="none" stroke="#a30d2e" stroke-width="1.2" stroke-linejoin="miter"/><polygon points="361.01,167.63 364.11,173.83 357.91,173.83" fill="none" stroke="#a30d2e" stroke-width="1.2" stroke-linejoin="miter"/><polyline points="59.63,90.7 75.28,109.96 90.94,127.73 106.6,141.78 122.25,152.24 133.99,157.01 141.82,159.81 149.65,160.21 157.48,162.21 165.31,163.74 173.13,165.02 180.96,166.02 188.79,166.73 196.62,166.83 204.45,167.41 212.27,167.95 220.1,169.6 227.93,168.86 235.76,169.97 243.59,170.73 251.41,170.77 259.24,170.08 267.07,170.67 274.9,170.01 282.73,170.54 290.55,171.82 298.38,169.88 306.21,170.85 314.04,172.12 321.87,171.64 329.69,171.44 337.52,171.47 345.35,172.23 353.18,172.03 361.01,172.16" fill="none" stroke="#0000ff" stroke-width="1.3"/><polygon points="59.63,87.3 62.63,93.2 56.63,93.2" fill="#0000ff"/><polygon points="75.28,106.56 78.28,112.46 72.28,112.46" fill="#0000ff"/><polygon points="90.94,124.33 93.94,130.23 87.94,130.23" fill="#0000ff"/><polygon points="106.6,138.38 109.6,144.28 103.6,144.28" fill="#0000ff"/><polygon points="122.25,148.84 125.25,154.74 119.25,154.74" fill="#0000ff"/><polygon points="133.99,153.61 136.99,159.51 130.99,159.51" fill="#0000ff"/><polygon points="141.82,156.41 144.82,162.31 138.82,162.31" fill="#0000ff"/><polygon points="149.65,156.81 152.65,162.71 146.65,162.71" fill="#0000ff"/><polygon points="157.48,158.81 160.48,164.71 154.48,164.71" fill="#0000ff"/><polygon points="165.31,160.34 168.31,166.24 162.31,166.24" fill="#0000ff"/><polygon points="173.13,161.62 176.13,167.52 170.13,167.52" fill="#0000ff"/><polygon points="180.96,162.62 183.96,168.52 177.96,168.52" fill="#0000ff"/><polygon points="188.79,163.33 191.79,169.23 185.79,169.23" fill="#0000ff"/><polygon points="196.62,163.43 199.62,169.33 193.62,169.33" fill="#0000ff"/><polygon points="204.45,164.01 207.45,169.91 201.45,169.91" fill="#0000ff"/><polygon points="212.27,164.55 215.27,170.45 209.27,170.45" fill="#0000ff"/><polygon points="220.1,166.2 223.1,172.1 217.1,172.1" fill="#0000ff"/><polygon points="227.93,165.46 230.93,171.36 224.93,171.36" fill="#0000ff"/><polygon points="235.76,166.57 238.76,172.47 232.76,172.47" fill="#0000ff"/><polygon points="243.59,167.33 246.59,173.23 240.59,173.23" fill="#0000ff"/><polygon points="251.41,167.37 254.41,173.27 248.41,173.27" fill="#0000ff"/><polygon points="259.24,166.68 262.24,172.58 256.24,172.58" fill="#0000ff"/><polygon points="267.07,167.27 270.07,173.17 264.07,173.17" fill="#0000ff"/><polygon points="274.9,166.61 277.9,172.51 271.9,172.51" fill="#0000ff"/><polygon points="282.73,167.14 285.73,173.04 279.73,173.04" fill="#0000ff"/><polygon points="290.55,168.42 293.55,174.32 287.55,174.32" fill="#0000ff"/><polygon points="298.38,166.48 301.38,172.38 295.38,172.38" fill="#0000ff"/><polygon points="306.21,167.45 309.21,173.35 303.21,173.35" fill="#0000ff"/><polygon points="314.04,168.72 317.04,174.62 311.04,174.62" fill="#0000ff"/><polygon points="321.87,168.24 324.87,174.14 318.87,174.14" fill="#0000ff"/><polygon points="329.69,168.04 332.69,173.94 326.69,173.94" fill="#0000ff"/><polygon points="337.52,168.07 340.52,173.97 334.52,173.97" fill="#0000ff"/><polygon points="345.35,168.83 348.35,174.73 342.35,174.73" fill="#0000ff"/><polygon points="353.18,168.63 356.18,174.53 350.18,174.53" fill="#0000ff"/><polygon points="361.01,168.76 364.01,174.66 358.01,174.66" fill="#0000ff"/><polyline points="59.63,97.8 75.28,114.4 90.94,135.5 106.6,153.6 122.25,169 133.99,180 141.82,187 149.65,192.7 157.48,199.6 165.31,206.25 173.13,212.8 180.96,218 188.79,224.7 196.62,228.5 204.45,234.1 212.27,239.1 220.1,243.2 227.93,247.5 235.76,251.2 243.59,254.4 251.41,253.8 259.24,258.2 267.07,260.1 274.9,262.5 282.73,262.4 290.55,263.6 298.38,266.2 306.21,266.6 314.04,268.7 321.87,264.1 329.69,266.6 337.52,272.4 345.35,274 353.18,274.5 361.01,266.1" fill="none" stroke="#ff0000" stroke-width="1" stroke-dasharray="1.2,1"/><polygon points="59.63,94.2 62.03,97.8 59.63,101.4 57.23,97.8" fill="#ff0000"/><polygon points="75.28,110.8 77.68,114.4 75.28,118 72.88,114.4" fill="#ff0000"/><polygon points="90.94,131.9 93.34,135.5 90.94,139.1 88.54,135.5" fill="#ff0000"/><polygon points="106.6,150 109,153.6 106.6,157.2 104.2,153.6" fill="#ff0000"/><polygon points="122.25,165.4 124.65,169 122.25,172.6 119.85,169" fill="#ff0000"/><polygon points="133.99,176.4 136.39,180 133.99,183.6 131.59,180" fill="#ff0000"/><polygon points="141.82,183.4 144.22,187 141.82,190.6 139.42,187" fill="#ff0000"/><polygon points="149.65,189.1 152.05,192.7 149.65,196.3 147.25,192.7" fill="#ff0000"/><polygon points="157.48,196 159.88,199.6 157.48,203.2 155.08,199.6" fill="#ff0000"/><polygon points="165.31,202.65 167.71,206.25 165.31,209.85 162.91,206.25" fill="#ff0000"/><polygon points="173.13,209.2 175.53,212.8 173.13,216.4 170.73,212.8" fill="#ff0000"/><polygon points="180.96,214.4 183.36,218 180.96,221.6 178.56,218" fill="#ff0000"/><polygon points="188.79,221.1 191.19,224.7 188.79,228.3 186.39,224.7" fill="#ff0000"/><polygon points="196.62,224.9 199.02,228.5 196.62,232.1 194.22,228.5" fill="#ff0000"/><polygon points="204.45,230.5 206.85,234.1 204.45,237.7 202.05,234.1" fill="#ff0000"/><polygon points="212.27,235.5 214.67,239.1 212.27,242.7 209.87,239.1" fill="#ff0000"/><polygon points="220.1,239.6 222.5,243.2 220.1,246.8 217.7,243.2" fill="#ff0000"/><polygon points="227.93,243.9 230.33,247.5 227.93,251.1 225.53,247.5" fill="#ff0000"/><polygon points="235.76,247.6 238.16,251.2 235.76,254.8 233.36,251.2" fill="#ff0000"/><polygon points="243.59,250.8 245.99,254.4 243.59,258 241.19,254.4" fill="#ff0000"/><polygon points="251.41,250.2 253.81,253.8 251.41,257.4 249.01,253.8" fill="#ff0000"/><polygon points="259.24,254.6 261.64,258.2 259.24,261.8 256.84,258.2" fill="#ff0000"/><polygon points="267.07,256.5 269.47,260.1 267.07,263.7 264.67,260.1" fill="#ff0000"/><polygon points="274.9,258.9 277.3,262.5 274.9,266.1 272.5,262.5" fill="#ff0000"/><polygon points="282.73,258.8 285.13,262.4 282.73,266 280.33,262.4" fill="#ff0000"/><polygon points="290.55,260 292.95,263.6 290.55,267.2 288.15,263.6" fill="#ff0000"/><polygon points="298.38,262.6 300.78,266.2 298.38,269.8 295.98,266.2" fill="#ff0000"/><polygon points="306.21,263 308.61,266.6 306.21,270.2 303.81,266.6" fill="#ff0000"/><polygon points="314.04,265.1 316.44,268.7 314.04,272.3 311.64,268.7" fill="#ff0000"/><polygon points="321.87,260.5 324.27,264.1 321.87,267.7 319.47,264.1" fill="#ff0000"/><polygon points="329.69,263 332.09,266.6 329.69,270.2 327.29,266.6" fill="#ff0000"/><polygon points="337.52,268.8 339.92,272.4 337.52,276 335.12,272.4" fill="#ff0000"/><polygon points="345.35,270.4 347.75,274 345.35,277.6 342.95,274" fill="#ff0000"/><polygon points="353.18,270.9 355.58,274.5 353.18,278.1 350.78,274.5" fill="#ff0000"/><polygon points="361.01,262.5 363.41,266.1 361.01,269.7 358.61,266.1" fill="#ff0000"/></g>
<path d="M45.5,17.0V478.5M45,17.5H371.8M45,317.5H371.8M371.1,17.0V478.5" stroke="#000" stroke-width="1" fill="none"/><path d="M371.1,17.0V478.5" stroke="#000" stroke-width="1.4" fill="none"/><path d="M45,478H371.8" stroke="#000" stroke-width="2" fill="none"/>
<path d="M45.5,313.83h5.5M371.0,313.83h-5.5M45.5,310.47h5.5M371.0,310.47h-5.5M45.5,307.63h5.5M371.0,307.63h-5.5M45.5,305.16h5.5M371.0,305.16h-5.5M45.5,302.99h5.5M371.0,302.99h-5.5M45.5,301.05h11M371.0,301.05h-11M45.5,288.27h5.5M371.0,288.27h-5.5M45.5,280.8h5.5M371.0,280.8h-5.5M45.5,275.49h5.5M371.0,275.49h-5.5M45.5,271.38h5.5M371.0,271.38h-5.5M45.5,268.02h5.5M371.0,268.02h-5.5M45.5,265.18h5.5M371.0,265.18h-5.5M45.5,262.71h5.5M371.0,262.71h-5.5M45.5,260.54h5.5M371.0,260.54h-5.5M45.5,258.6h11M371.0,258.6h-11M45.5,245.82h5.5M371.0,245.82h-5.5M45.5,238.35h5.5M371.0,238.35h-5.5M45.5,233.04h5.5M371.0,233.04h-5.5M45.5,228.93h5.5M371.0,228.93h-5.5M45.5,225.57h5.5M371.0,225.57h-5.5M45.5,222.73h5.5M371.0,222.73h-5.5M45.5,220.26h5.5M371.0,220.26h-5.5M45.5,218.09h5.5M371.0,218.09h-5.5M45.5,216.15h11M371.0,216.15h-11M45.5,203.37h5.5M371.0,203.37h-5.5M45.5,195.9h5.5M371.0,195.9h-5.5M45.5,190.59h5.5M371.0,190.59h-5.5M45.5,186.48h5.5M371.0,186.48h-5.5M45.5,183.12h5.5M371.0,183.12h-5.5M45.5,180.28h5.5M371.0,180.28h-5.5M45.5,177.81h5.5M371.0,177.81h-5.5M45.5,175.64h5.5M371.0,175.64h-5.5M45.5,173.7h11M371.0,173.7h-11M45.5,160.92h5.5M371.0,160.92h-5.5M45.5,153.45h5.5M371.0,153.45h-5.5M45.5,148.14h5.5M371.0,148.14h-5.5M45.5,144.03h5.5M371.0,144.03h-5.5M45.5,140.67h5.5M371.0,140.67h-5.5M45.5,137.83h5.5M371.0,137.83h-5.5M45.5,135.36h5.5M371.0,135.36h-5.5M45.5,133.19h5.5M371.0,133.19h-5.5M45.5,131.25h11M371.0,131.25h-11M45.5,118.47h5.5M371.0,118.47h-5.5M45.5,111h5.5M371.0,111h-5.5M45.5,105.69h5.5M371.0,105.69h-5.5M45.5,101.58h5.5M371.0,101.58h-5.5M45.5,98.22h5.5M371.0,98.22h-5.5M45.5,95.38h5.5M371.0,95.38h-5.5M45.5,92.91h5.5M371.0,92.91h-5.5M45.5,90.74h5.5M371.0,90.74h-5.5M45.5,88.8h11M371.0,88.8h-11M45.5,76.02h5.5M371.0,76.02h-5.5M45.5,68.55h5.5M371.0,68.55h-5.5M45.5,63.24h5.5M371.0,63.24h-5.5M45.5,59.13h5.5M371.0,59.13h-5.5M45.5,55.77h5.5M371.0,55.77h-5.5M45.5,52.93h5.5M371.0,52.93h-5.5M45.5,50.46h5.5M371.0,50.46h-5.5M45.5,48.29h5.5M371.0,48.29h-5.5M45.5,46.35h11M371.0,46.35h-11M45.5,33.57h5.5M371.0,33.57h-5.5M45.5,26.1h5.5M371.0,26.1h-5.5M45.5,20.79h5.5M371.0,20.79h-5.5M45.5,458.52h7M371.0,458.52h-7M45.5,442.55h5.5M371.0,442.55h-5.5M45.5,429.04h5.5M371.0,429.04h-5.5M45.5,417.35h5.5M371.0,417.35h-5.5M45.5,407.03h5.5M371.0,407.03h-5.5M45.5,397.8h7M371.0,397.8h-7M45.5,389.45h5.5M371.0,389.45h-5.5M45.5,381.83h5.5M371.0,381.83h-5.5M45.5,374.82h5.5M371.0,374.82h-5.5M45.5,368.33h5.5M371.0,368.33h-5.5M45.5,362.28h5.5M371.0,362.28h-5.5M45.5,356.63h5.5M371.0,356.63h-5.5M45.5,351.32h5.5M371.0,351.32h-5.5M45.5,346.31h5.5M371.0,346.31h-5.5M45.5,341.58h5.5M371.0,341.58h-5.5M45.5,337.08h7M371.0,337.08h-7M45.5,332.81h5.5M371.0,332.81h-5.5M45.5,328.73h5.5M371.0,328.73h-5.5M45.5,324.84h5.5M371.0,324.84h-5.5M45.5,321.11h5.5M371.0,321.11h-5.5M51.8,17.5v8.5M51.8,317.5v-8M51.8,317.5v5.5M51.8,477.5v-4.6M71.37,17.5v4.5M71.37,317.5v-4M71.37,317.5v2.5M71.37,477.5v-2.6M90.94,17.5v4.5M90.94,317.5v-4M90.94,317.5v2.5M90.94,477.5v-2.6M110.51,17.5v4.5M110.51,317.5v-4M110.51,317.5v2.5M110.51,477.5v-2.6M130.08,17.5v8.5M130.08,317.5v-8M130.08,317.5v5.5M130.08,477.5v-4.6M149.65,17.5v4.5M149.65,317.5v-4M149.65,317.5v2.5M149.65,477.5v-2.6M169.22,17.5v4.5M169.22,317.5v-4M169.22,317.5v2.5M169.22,477.5v-2.6M188.79,17.5v4.5M188.79,317.5v-4M188.79,317.5v2.5M188.79,477.5v-2.6M208.36,17.5v8.5M208.36,317.5v-8M208.36,317.5v5.5M208.36,477.5v-4.6M227.93,17.5v4.5M227.93,317.5v-4M227.93,317.5v2.5M227.93,477.5v-2.6M247.5,17.5v4.5M247.5,317.5v-4M247.5,317.5v2.5M247.5,477.5v-2.6M267.07,17.5v4.5M267.07,317.5v-4M267.07,317.5v2.5M267.07,477.5v-2.6M286.64,17.5v8.5M286.64,317.5v-8M286.64,317.5v5.5M286.64,477.5v-4.6M306.21,17.5v4.5M306.21,317.5v-4M306.21,317.5v2.5M306.21,477.5v-2.6M325.78,17.5v4.5M325.78,317.5v-4M325.78,317.5v2.5M325.78,477.5v-2.6M345.35,17.5v4.5M345.35,317.5v-4M345.35,317.5v2.5M345.35,477.5v-2.6M364.92,17.5v8.5M364.92,317.5v-8M364.92,317.5v5.5M364.92,477.5v-4.6" stroke="#000" stroke-width="1" fill="none"/>
<rect x="73.5" y="221.2" width="5.6" height="5.6" fill="#000"/><line x1="64" y1="237" x2="88" y2="237" stroke="#349a14" stroke-dasharray="3,2"/><rect x="73.85" y="234.35" width="5.3" height="5.3" fill="none" stroke="#349a14" stroke-width="1.25"/><path d="M76.5,235.8V238.2" stroke="#349a14" stroke-width="0.8" stroke-opacity="0.7" fill="none"/><line x1="64" y1="250.2" x2="88.5" y2="250.2" stroke="#a30d2e" stroke-width="1"/><polygon points="76.5,246.6 79.6,252.8 73.4,252.8" fill="none" stroke="#a30d2e" stroke-width="1.2" stroke-linejoin="miter"/><line x1="64" y1="263.3" x2="88.5" y2="263.3" stroke="#0000ff" stroke-width="1"/><polygon points="76.5,260.1 79.5,266 73.5,266" fill="#0000ff"/><line x1="64" y1="275.8" x2="88.5" y2="275.8" stroke="#ff0000" stroke-dasharray="1,1" stroke-width="0.9"/><polygon points="76.5,272.68 78.58,275.8 76.5,278.92 74.42,275.8" fill="#ff0000"/><text x="94.3" y="226.4" font-size="9.4" text-anchor="start" fill="#000">ATLAS</text><text x="94.3" y="239.4" font-size="9.4" text-anchor="start" fill="#000">Herwig 7.2.1 default</text><text x="94.3" y="252.6" font-size="9.4" text-anchor="start" fill="#000">Pythia 6.428 370</text><text x="94.3" y="265.7" font-size="9.4" text-anchor="start" fill="#000">Pythia 8.170 default</text><text x="94.3" y="278.2" font-size="9.4" text-anchor="start" fill="#000">Sherpa 2.2.9 default</text>
<text x="51" y="14.3" font-size="12.25" text-anchor="start" fill="#000">7000 GeV pp</text><text x="366.9" y="14.3" font-size="12.1" text-anchor="end" fill="#000">Soft QCD</text><text x="121" y="43.7" font-size="12.05" text-anchor="start" fill="#000">Rapidity gap size</text><text x="213.3" y="43.9" font-size="9.8" text-anchor="start" fill="#000" letter-spacing="0.2">(pT &gt; 0.2, η| &lt; 4.9)</text><text x="39.8" y="305.75" font-size="11.3" text-anchor="end">10<tspan font-size="7.2" dy="-4.6">−3</tspan></text><text x="39.8" y="263.3" font-size="11.3" text-anchor="end">10<tspan font-size="7.2" dy="-4.6">−2</tspan></text><text x="39.8" y="220.85" font-size="11.3" text-anchor="end">10<tspan font-size="7.2" dy="-4.6">−1</tspan></text><text x="39.8" y="178.4" font-size="11.3" text-anchor="end" fill="#000">1</text><text x="41.4" y="135.95" font-size="11.3" text-anchor="end" fill="#000" letter-spacing="0.6">10</text><text x="39.8" y="93.5" font-size="11.3" text-anchor="end">10<tspan font-size="7.2" dy="-4.6">2</tspan></text><text x="39.8" y="51.05" font-size="11.3" text-anchor="end">10<tspan font-size="7.2" dy="-4.6">3</tspan></text><text x="39.2" y="340.88" font-size="11.5" text-anchor="end" fill="#000" letter-spacing="0.5">2</text><text x="373.2" y="340.88" font-size="11.5" text-anchor="start" fill="#000" letter-spacing="0.5">2</text><text x="39.2" y="401.6" font-size="11.5" text-anchor="end" fill="#000" letter-spacing="0.5">1</text><text x="373.2" y="401.6" font-size="11.5" text-anchor="start" fill="#000" letter-spacing="0.5">1</text><text x="39.2" y="462.32" font-size="11.5" text-anchor="end" fill="#000" letter-spacing="0.5">0.5</text><text x="373.2" y="462.32" font-size="11.5" text-anchor="start" fill="#000" letter-spacing="0.5">0.5</text><text x="51.8" y="489" font-size="11" text-anchor="middle" fill="#000">0</text><text x="130.08" y="489" font-size="11" text-anchor="middle" fill="#000">2</text><text x="208.36" y="489" font-size="11" text-anchor="middle" fill="#000">4</text><text x="286.64" y="489" font-size="11" text-anchor="middle" fill="#000">6</text><text x="364.92" y="489" font-size="11" text-anchor="middle" fill="#000">8</text><text x="351" y="504.5" font-size="11">Δ</text><text transform="translate(358.3,504.5) scale(1.25,1)" font-size="11">η</text><text x="365.8" y="498.6" font-size="8.2">F</text><text transform="translate(17,93) rotate(-90)" font-size="12">dσ / dΔη<tspan font-size="8.6" dy="-5" dx="-0.6">F</tspan><tspan dy="5" dx="-0.4"> [mb]</tspan></text><text transform="translate(18.1,428.2) rotate(-90)" font-size="9.25">Ratio to ATLAS</text><text transform="translate(380.3,133.6) rotate(-90)" font-size="9.5" fill="#707070">Rivet 3.1.10, ≥ 200k events</text><text transform="translate(380.8,315.1) rotate(-90)" font-size="9.5" fill="#707070">mcplots.cern.ch [arXiv:1306.3436]</text><text x="166.4" y="302.3" font-size="8" text-anchor="start" fill="#aaa">ATLAS_2012_I1084540</text>
</svg></body></html>
